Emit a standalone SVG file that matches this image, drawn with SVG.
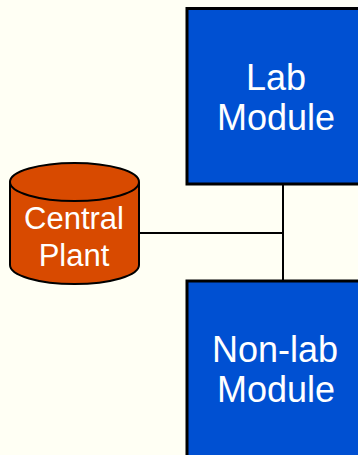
<svg xmlns="http://www.w3.org/2000/svg" width="358" height="455" viewBox="0 0 358 455">
<style>
.box{fill:#0050D2;stroke:#000;stroke-width:3}
.cyl{fill:#D84A00;stroke:#000;stroke-width:2}
.lbl{fill:#fff;font-family:"Liberation Sans",Arial,sans-serif;text-anchor:middle}
.conn{stroke:#000;stroke-width:2;fill:none}
</style>
<rect width="358" height="455" fill="#FFFFF4"/>
<g id="connectors">
<line class="conn" x1="283" y1="184" x2="283" y2="281"/>
<line class="conn" x1="139" y1="233" x2="283" y2="233"/>
</g>
<g id="lab-module">
<rect class="box" x="187" y="8.5" width="180" height="175.5"/>
<text class="lbl" font-size="36" x="276" y="89.5">Lab</text>
<text class="lbl" font-size="36" x="276" y="130">Module</text>
</g>
<g id="nonlab-module">
<rect class="box" x="187" y="281" width="180" height="190"/>
<text class="lbl" font-size="36" x="275" y="362">Non-lab</text>
<text class="lbl" font-size="36" x="276" y="402">Module</text>
</g>
<g id="central-plant">
<path class="cyl" d="M10,182 L10,265 A64.5,19 0 0 0 139,265 L139,182"/>
<ellipse class="cyl" cx="74.5" cy="182" rx="64.5" ry="19"/>
<text class="lbl" font-size="31" x="74" y="229">Central</text>
<text class="lbl" font-size="31" x="74" y="266">Plant</text>
</g>
</svg>
